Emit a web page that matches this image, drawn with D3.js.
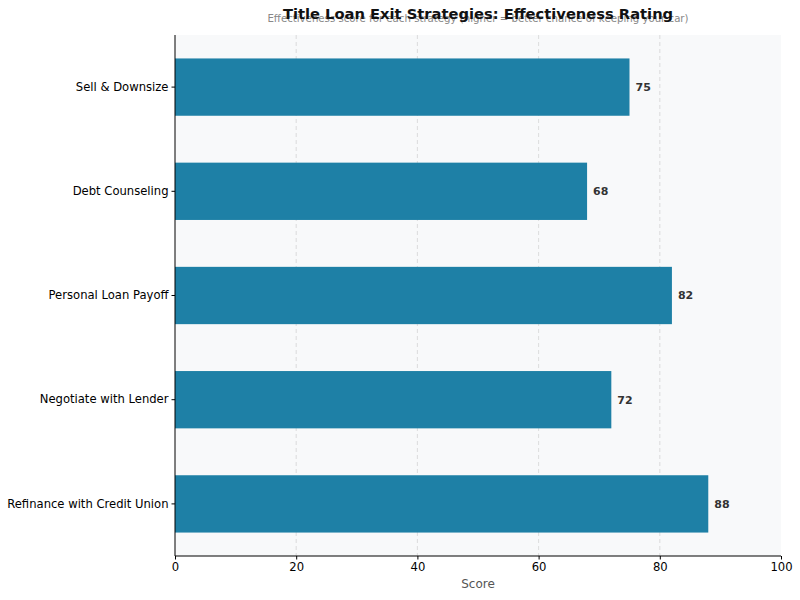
<!DOCTYPE html>
<html>
<head>
<meta charset="utf-8">
<script src="https://cdn.jsdelivr.net/npm/d3@7"></script>
<style>
  body { margin: 0; background: #fff; }
  svg { font-family: "DejaVu Sans", sans-serif; }
</style>
</head>
<body>
<svg width="800" height="600"></svg>
<script>
const strategies = [
  "Sell & Downsize",
  "Debt Counseling",
  "Personal Loan Payoff",
  "Negotiate with Lender",
  "Refinance with Credit Union"
];
const scores = [75, 68, 82, 72, 88];
const xTicks = [0, 20, 40, 60, 80, 100];

const width = 800;
const height = 600;
const margin = { top: 35, right: 19, bottom: 44, left: 175 };

const svg = d3.select("svg");

const x = d3.scaleLinear()
  .domain([0, 100])
  .range([margin.left, width - margin.right]);

const y = d3.scaleBand()
  .domain(strategies)
  .range([margin.top, height - margin.bottom])
  .paddingInner(0.45)
  .paddingOuter(0.225);

// plot background
svg.append("rect")
  .attr("x", margin.left)
  .attr("y", margin.top)
  .attr("width", width - margin.left - margin.right)
  .attr("height", height - margin.top - margin.bottom)
  .attr("fill", "#f8f9fa");

// grid
svg.append("g")
  .selectAll("line")
  .data(xTicks.slice(1, -1))
  .join("line")
  .attr("x1", (d) => x(d))
  .attr("x2", (d) => x(d))
  .attr("y1", margin.top)
  .attr("y2", height - margin.bottom)
  .attr("stroke", "#d4d4d4")
  .attr("stroke-width", 0.8)
  .attr("stroke-dasharray", "4,3");

// bars
const data = strategies.map((s, i) => ({ name: s, value: scores[i] }));

svg.append("g")
  .selectAll("rect")
  .data(data)
  .join("rect")
  .attr("x", x(0))
  .attr("y", (d) => y(d.name))
  .attr("width", (d) => x(d.value) - x(0))
  .attr("height", y.bandwidth())
  .attr("fill", "#1e80a6");

svg.append("g")
  .selectAll("text")
  .data(data)
  .join("text")
  .attr("x", (d) => x(d.value) + 6)
  .attr("y", (d) => y(d.name) + y.bandwidth() / 2)
  .attr("dy", "0.35em")
  .attr("font-size", 11)
  .attr("font-weight", "bold")
  .attr("fill", "#333")
  .text((d) => d.value);

// axes
const xAxis = svg.append("g")
  .attr("transform", `translate(0,${height - margin.bottom})`)
  .call(d3.axisBottom(x).tickValues(xTicks).tickSize(3.5).tickPadding(3));
xAxis.selectAll("text").attr("font-size", 11.6).attr("fill", "#000").attr("font-family", "DejaVu Sans");
xAxis.select(".domain").attr("stroke", "#000").attr("d", `M${x(0)},0H${x(100)}`);

const yAxis = svg.append("g")
  .attr("transform", `translate(${margin.left},0)`)
  .call(d3.axisLeft(y).tickSize(3.5).tickPadding(3));
yAxis.selectAll("text").attr("font-size", 11.6).attr("fill", "#000").attr("font-family", "DejaVu Sans");
yAxis.select(".domain").attr("stroke", "#000").attr("d", `M0,${margin.top}V${height - margin.bottom}`);

// labels
svg.append("text")
  .attr("x", (x(0) + x(100)) / 2)
  .attr("y", 588)
  .attr("text-anchor", "middle")
  .attr("font-size", 12)
  .attr("fill", "#555")
  .text("Score");

svg.append("text")
  .attr("x", (x(0) + x(100)) / 2)
  .attr("y", 22)
  .attr("text-anchor", "middle")
  .attr("font-size", 10.2)
  .attr("fill", "#888")
  .text("Effectiveness score for each strategy (higher = better chance of keeping your car)");

svg.append("text")
  .attr("x", (x(0) + x(100)) / 2)
  .attr("y", 19)
  .attr("text-anchor", "middle")
  .attr("font-size", 14.7)
  .attr("font-weight", "bold")
  .attr("fill", "#111")
  .text("Title Loan Exit Strategies: Effectiveness Rating");
</script>
</body>
</html>
